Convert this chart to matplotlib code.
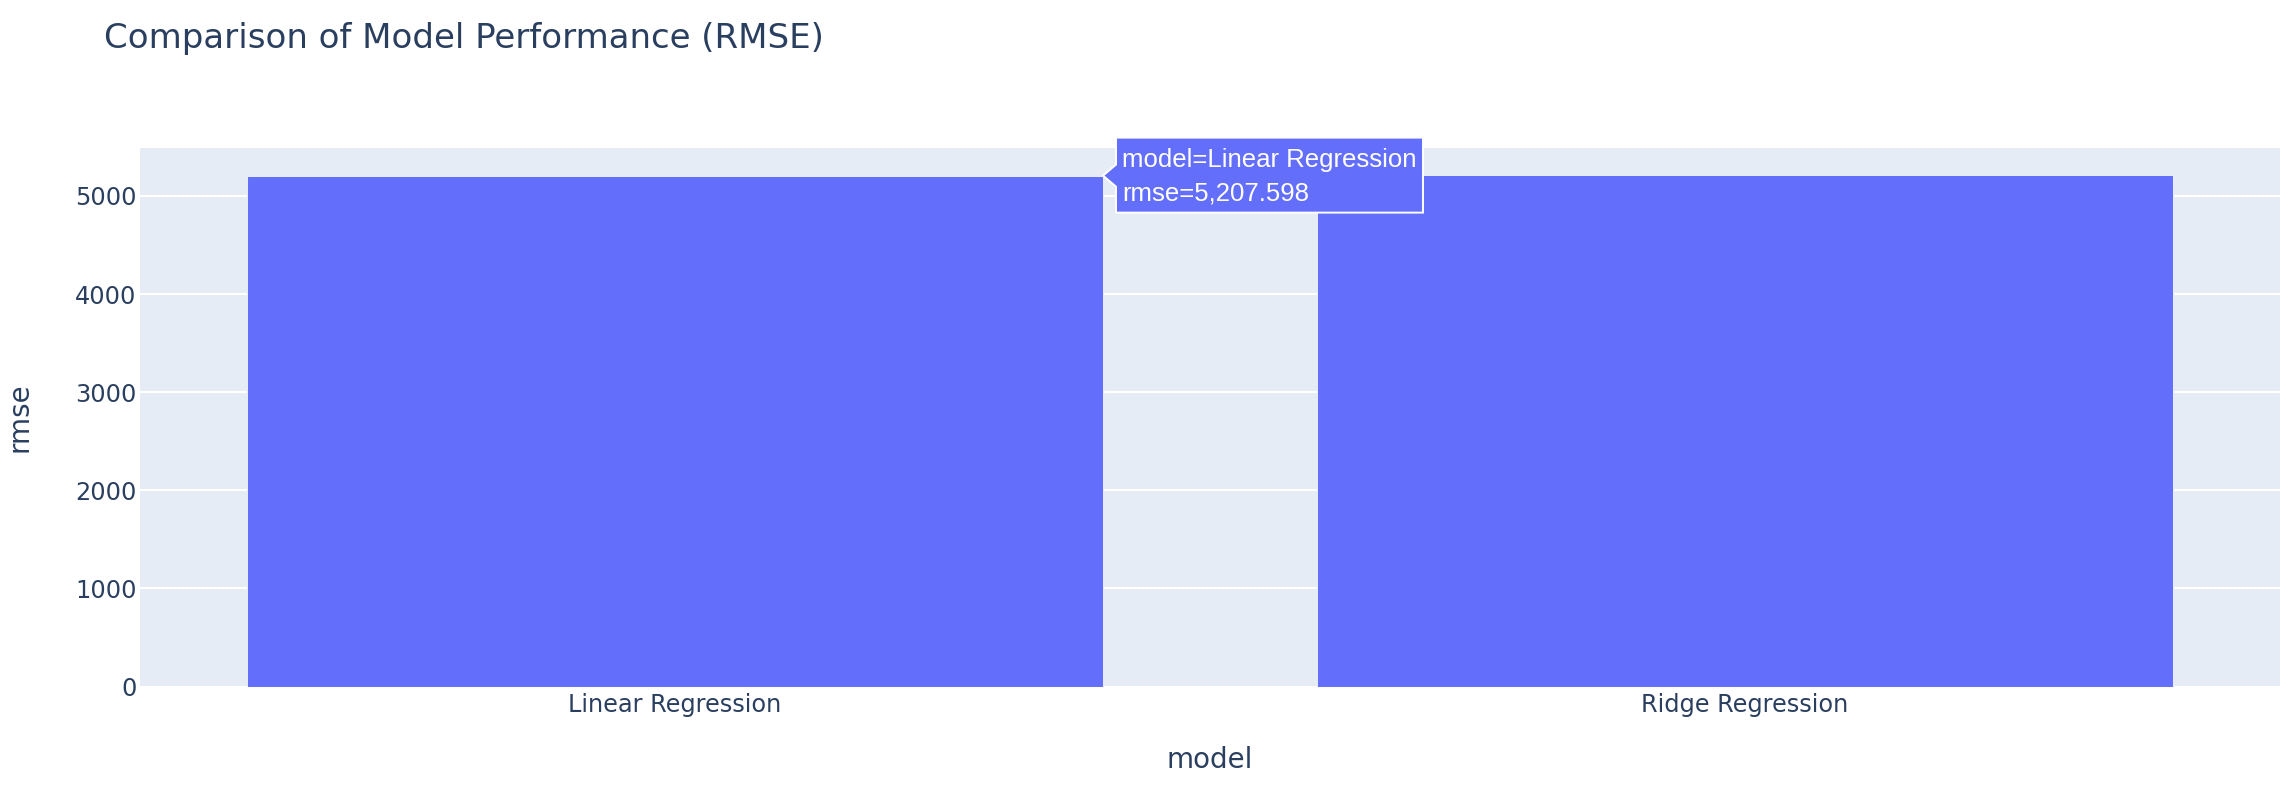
import matplotlib
matplotlib.use("Agg")
import matplotlib.pyplot as plt
from matplotlib.patches import Polygon

# ---- data ----
models = ["Linear Regression", "Ridge Regression"]
rmse = [5207.598, 5215.0]
yticks = [0, 1000, 2000, 3000, 4000, 5000]
hover_lines = ["model=Linear Regression", "rmse=5,207.598"]

BAR = "#636EFA"
BG = "#E5ECF6"
TXT = "#2a3f5f"
FONT = "DejaVu Sans"

W, H = 2296, 786
DPI = 100
fig = plt.figure(figsize=(W / DPI, H / DPI), dpi=DPI)
fig.patch.set_facecolor("white")

ax = fig.add_axes([140 / W, 1 - 686.5 / H, (2280 - 140) / W, (686.5 - 148) / H])
ax.set_facecolor(BG)
for s in ax.spines.values():
    s.set_visible(False)

x = list(range(len(models)))
ax.bar(x, rmse, width=0.8, color=BAR, edgecolor=BG, linewidth=0.75, zorder=3)

ax.set_xlim(-0.5, len(models) - 0.5)
ax.set_ylim(0, 5489)
ax.set_yticks(yticks)
ax.set_yticklabels([str(t) for t in yticks])
ax.set_xticks(x)
ax.set_xticklabels(models)
ax.grid(axis="y", color="white", linewidth=1.44, zorder=1)
ax.grid(axis="x", visible=False)
ax.set_axisbelow(True)
ax.tick_params(axis="both", length=0, labelsize=17.3, labelcolor=TXT)
ax.tick_params(axis="y", pad=2.5)
ax.tick_params(axis="x", pad=5)
for lab in ax.get_xticklabels() + ax.get_yticklabels():
    lab.set_fontfamily(FONT)

ax.set_xlabel("model", fontsize=20, color=TXT, fontfamily=FONT)
ax.set_ylabel("rmse", fontsize=20, color=TXT, fontfamily=FONT)
ax.xaxis.set_label_coords(0.5, (686.5 - 760) / (686.5 - 148))
ax.xaxis.label.set_va("center")
ax.yaxis.set_label_coords((20 - 140) / (2280 - 140), 0.5)
ax.yaxis.label.set_va("center")

fig.text(104 / W, 1 - 48 / H, "Comparison of Model Performance (RMSE)",
         fontsize=24.5, color=TXT, fontfamily=FONT, va="baseline", ha="left")

# ---- hover tooltip anchored at top-right corner of first bar ----
fig.canvas.draw()
axp, ayp = ax.transData.transform((x[0] + 0.4, rmse[0]))
bl, br = axp + 13, axp + 320
bt, bb = ayp + 38, ayp - 37
poly = Polygon([(axp, ayp), (bl, ayp + 11), (bl, bt), (br, bt), (br, bb),
                (bl, bb), (bl, ayp - 11)], closed=True, transform=None,
               facecolor=BAR, edgecolor="white", linewidth=1.4, zorder=10)
fig.add_artist(poly)
fig.text((bl + 6) / W, (ayp + 16) / H, hover_lines[0], color="white",
         fontsize=18.5, fontfamily="Liberation Sans", va="center", ha="left", zorder=11)
fig.text((bl + 6) / W, (ayp - 18) / H, hover_lines[1], color="white",
         fontsize=18.5, fontfamily="Liberation Sans", va="center", ha="left", zorder=11)

fig.savefig("out.png", dpi=DPI, facecolor="white")
